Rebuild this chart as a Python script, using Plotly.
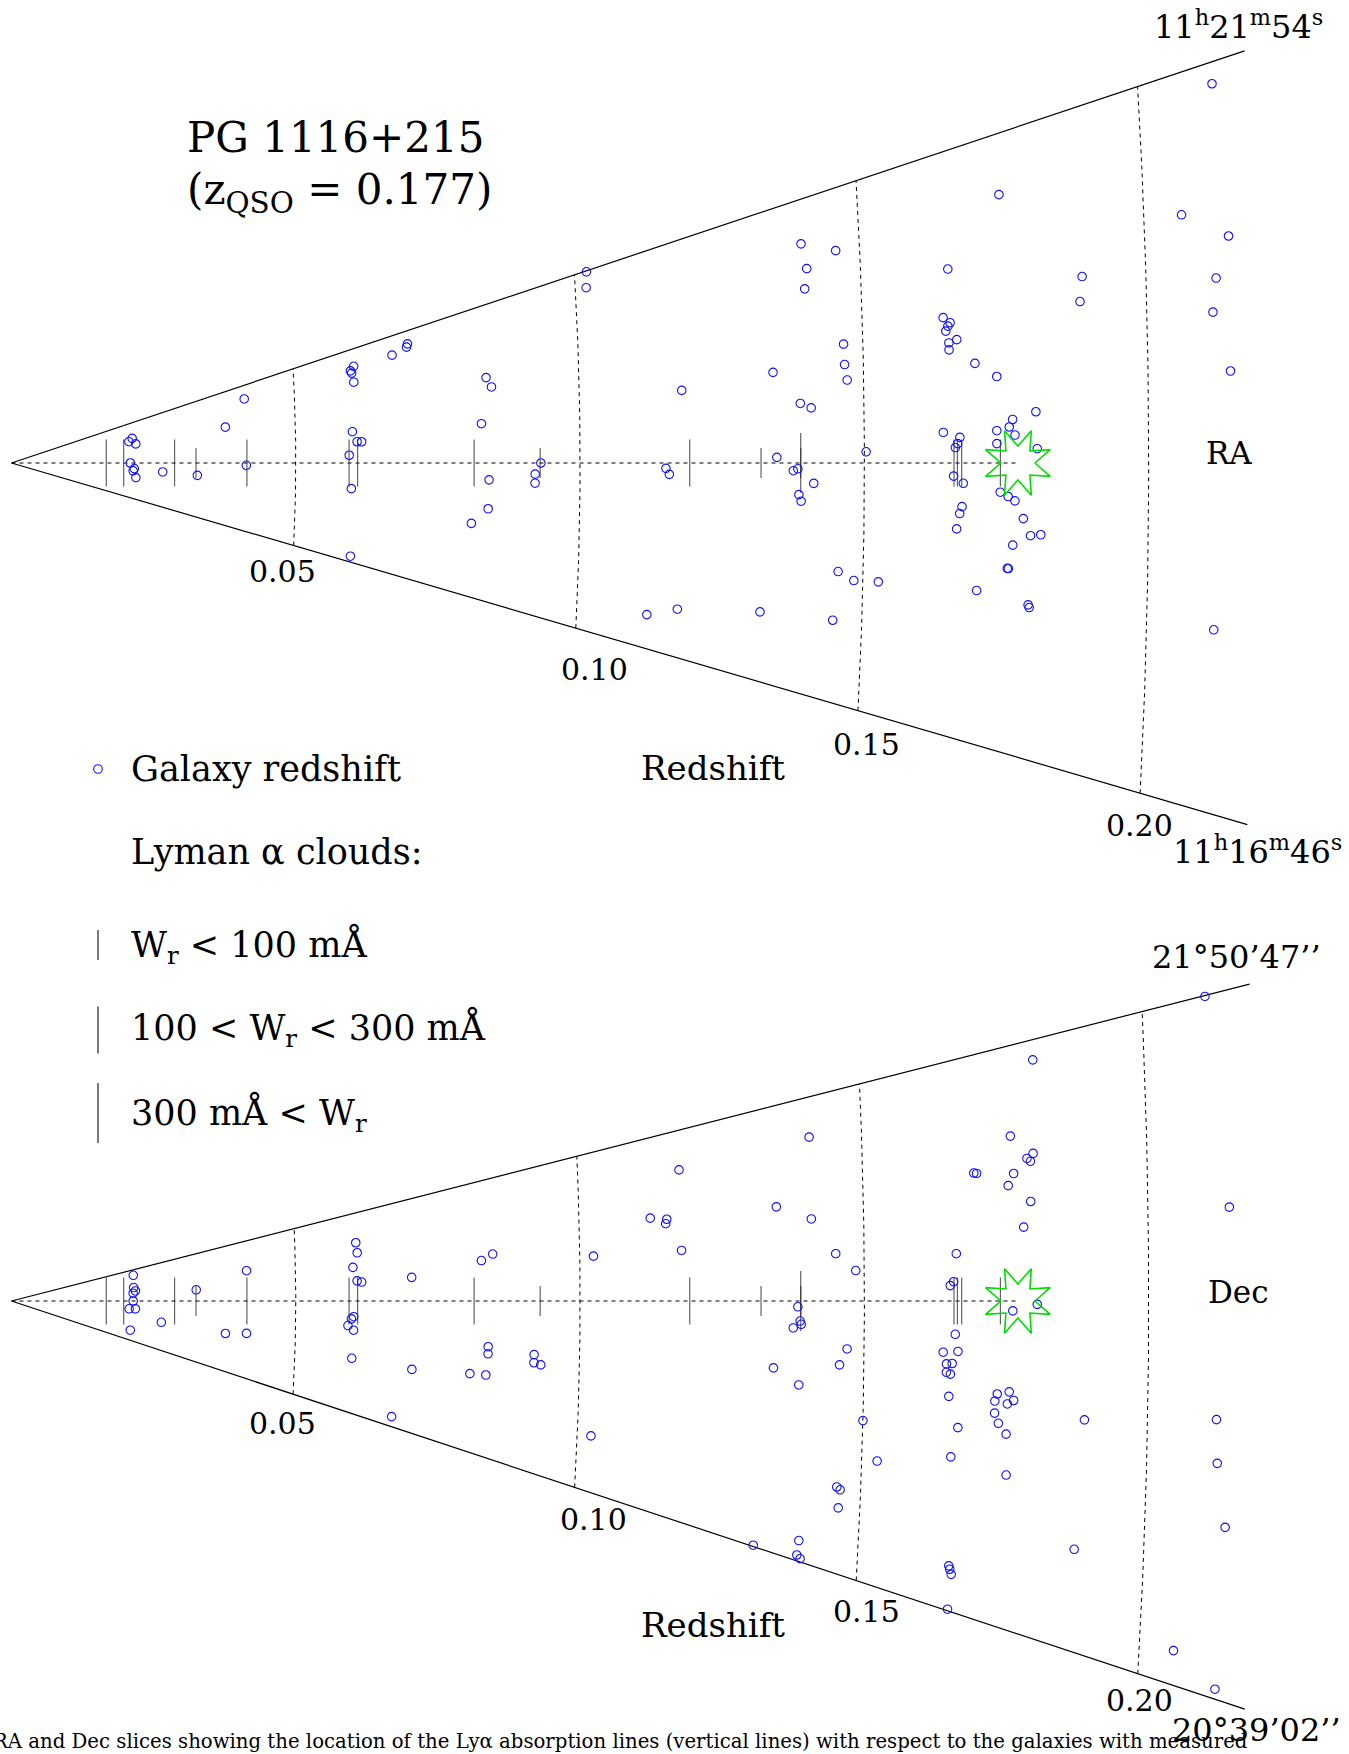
import numpy as np
import plotly.graph_objects as go

# ------------------------------------------------------------------ data
Z_QSO = 0.177
Z_EDGE = 0.219
Z_TICKS = [0.05, 0.10, 0.15, 0.20]
Z_TICK_TEXT = ["0.05", "0.10", "0.15", "0.20"]
RA_LIMITS = [-35.5, 40.5]     # arcmin offset from QSO (lower edge, upper edge)
DEC_LIMITS = [-40.1, 31.1]

# galaxies in the RA slice: redshift and RA offset (arcmin)
ra_gal_z = [0.2130, 0.1748, 0.2066, 0.2147, 0.1398, 0.1458, 0.1406, 0.1021, 0.1653, 0.1888,
            0.2123, 0.1019, 0.1401, 0.1883, 0.2116, 0.1642, 0.1654, 0.1650, 0.1646, 0.1665,
            0.1651, 0.1651, 0.1466, 0.0702, 0.0700, 0.0674, 0.1696, 0.0606, 0.0600, 0.0602,
            0.1467, 0.1341, 0.1734, 0.2145, 0.0837, 0.1471, 0.0605, 0.0846, 0.1180, 0.0412,
            0.1388, 0.1407, 0.1802, 0.1761, 0.0827, 0.0377, 0.1755, 0.1639, 0.1733, 0.0600,
            0.1765, 0.1668, 0.0213, 0.0207, 0.0219, 0.0608, 0.0616, 0.1664, 0.1660, 0.1733,
            0.1804, 0.1503, 0.0594, 0.1346, 0.0209, 0.0413, 0.0931, 0.0216, 0.0214, 0.1151,
            0.1157, 0.1383, 0.1375, 0.0266, 0.0921, 0.0327, 0.1657, 0.0219, 0.0840, 0.1411,
            0.0921, 0.1674, 0.0598, 0.1739, 0.1385, 0.1753, 0.1389, 0.1765, 0.1672, 0.0839,
            0.1668, 0.1780, 0.0810, 0.1663, 0.1811, 0.1793, 0.1762, 0.0600, 0.1753, 0.1755,
            0.1456, 0.1484, 0.1527, 0.1700, 0.1791, 0.1793, 0.1176, 0.1321, 0.1123, 0.1449,
            0.2118]
ra_gal_off = [38.3, 33.0, 25.8, 22.7, 33.7, 31.3, 29.7, 40.3, 25.2, 21.2,
              18.7, 37.0, 26.7, 18.4, 15.3, 19.0, 18.2, 17.8, 17.2, 15.9,
              15.6, 14.7, 17.4, 36.5, 35.6, 34.4, 12.6, 34.3, 33.0, 32.1,
              14.4, 14.5, 10.7, 9.2, 21.9, 12.1, 28.7, 19.3, 13.2, 33.4,
              9.2, 8.4, 6.1, 5.3, 10.2, 20.4, 4.4, 4.0, 4.0, 11.2,
              3.4, 3.3, 24.8, 22.1, 18.7, 7.5, 7.4, 2.5, 2.0, 2.4,
              1.7, 1.6, 2.8, 0.9, 0.0, -1.2, 0.0, -5.5, -7.8, -1.0,
              -2.1, -0.9, -1.2, -7.2, -2.6, -8.1, -1.7, -14.3, -4.3, -3.1,
              -4.7, -2.6, -9.2, -3.6, -4.9, -4.1, -5.9, -4.6, -5.6, -11.7,
              -6.5, -6.7, -16.0, -8.5, -8.5, -8.7, -10.0, -33.4, -12.9, -12.9,
              -16.0, -17.0, -16.7, -16.1, -17.0, -17.3, -26.7, -24.2, -29.0, -23.3,
              -16.9]

# galaxies in the Dec slice: redshift and Dec offset (arcmin)
dec_gal_z = [0.2111, 0.1805, 0.1408, 0.1761, 0.1800, 0.1789, 0.1795, 0.1178, 0.1695, 0.1700,
             0.1765, 0.1755, 0.1794, 0.2143, 0.1347, 0.1125, 0.1154, 0.1152, 0.1408, 0.1781,
             0.0607, 0.0609, 0.1450, 0.1662, 0.1179, 0.1024, 0.0827, 0.0847, 0.0601, 0.0414,
             0.1485, 0.0215, 0.0704, 0.0608, 0.0616, 0.1657, 0.1651, 0.0215, 0.0218, 0.0214,
             0.0325, 0.0214, 0.1804, 0.1383, 0.0207, 0.0218, 0.1761, 0.0602, 0.0598, 0.0592,
             0.0602, 0.1387, 0.1389, 0.1375, 0.0264, 0.0210, 0.0377, 0.0414, 0.1660, 0.0839,
             0.0839, 0.1470, 0.1639, 0.1665, 0.0920, 0.0920, 0.0932, 0.0600, 0.1645, 0.1655,
             0.1457, 0.1341, 0.0706, 0.1645, 0.1652, 0.0808, 0.0836, 0.1386, 0.1735, 0.1756,
             0.1731, 0.1764, 0.1753, 0.1650, 0.1731, 0.0674, 0.1889, 0.2121, 0.1500, 0.1738,
             0.1667, 0.1752, 0.1024, 0.1656, 0.1527, 0.2124, 0.1754, 0.1458, 0.1464, 0.1462,
             0.2141, 0.1396, 0.1317, 0.1878, 0.1394, 0.1400, 0.1660, 0.1662, 0.1665, 0.1662,
             0.2060, 0.2136]
dec_gal_off = [31.0, 28.7, 25.0, 20.1, 17.6, 17.1, 16.7, 23.9, 16.2, 16.1,
               15.5, 14.1, 11.9, 9.4, 15.0, 15.8, 15.2, 14.4, 12.5, 8.9,
               20.6, 17.0, 7.0, 6.1, 9.2, 9.4, 10.5, 11.9, 12.0, 15.7,
               4.4, 25.7, 7.2, 7.1, 6.6, 2.5, 2.0, 13.4, 9.9, 7.8,
               7.4, 0.0, -0.4, -0.9, -8.1, -7.7, -1.2, -5.6, -6.4, -8.9,
               -10.4, -3.1, -3.6, -4.2, -17.3, -29.9, -18.5, -16.8, -4.3, -11.7,
               -13.5, -7.0, -6.7, -6.5, -12.5, -14.4, -14.7, -20.5, -8.2, -8.1,
               -9.4, -10.7, -20.8, -9.3, -9.5, -19.3, -19.0, -13.0, -11.5, -11.1,
               -12.4, -12.1, -12.6, -12.4, -13.9, -36.9, -13.5, -12.0, -17.1, -15.1,
               -16.3, -16.3, -28.3, -20.2, -22.5, -16.4, -21.3, -27.4, -27.7, -30.4,
               -22.7, -36.9, -39.9, -28.4, -39.2, -39.6, -34.3, -34.7, -35.3, -39.9,
               -36.5, -39.1]

# Ly-alpha absorbers: redshift and W_r class (0: <100, 1: 100-300, 2: >300 mA)
lya_z = [0.01667, 0.01973, 0.02868, 0.03245, 0.04140, 0.05937, 0.06087, 0.08136,
         0.09298, 0.11928, 0.13182, 0.13880, 0.13880, 0.16576, 0.16636, 0.16711, 0.17392]
lya_class = [1, 1, 1, 0, 1, 1, 1, 1, 0, 1, 0, 2, 0, 1, 1, 1, 1]

# ------------------------------------------------------------------ geometry / style
W, H = 1349, 1754
PX_PER_Z = 5686.0           # horizontal pixels per unit redshift
VEXAG = 2.37                # vertical exaggeration of the slices
ANG_PER_ARCMIN = 0.0082 / VEXAG
APEX_PX_X = 11.5
TOP_CENTER_PX = 463.0
BOT_CENTER_PX = 1301.0
PY_PER_Y = PX_PER_Z * VEXAG
FONT = "DejaVu Serif"
BAR_PX = [30, 47, 60]       # tick length for each W_r class
GAL_COLOR = "#1010ff"
STAR_COLOR = "#00dd00"


def polar(z, off):
    z = np.asarray(z, float)
    phi = ANG_PER_ARCMIN * np.asarray(off, float)
    return z * np.cos(phi), z * np.sin(phi)


def px2paper(x, y):
    return x / W, 1 - y / H


fig = go.Figure()


def add_wedge(gz, goff, lims, xa, ya):
    # edges
    xe, ye = polar([Z_EDGE, 0, Z_EDGE], [lims[0], 0, lims[1]])
    fig.add_trace(go.Scatter(x=xe, y=ye, mode="lines", xaxis=xa, yaxis=ya,
                             line=dict(color="black", width=1.2), hoverinfo="skip"))
    # redshift arcs
    for tz in Z_TICKS:
        offs = np.linspace(lims[0], lims[1], 80)
        xa_, ya_ = polar(np.full_like(offs, tz), offs)
        fig.add_trace(go.Scatter(x=xa_, y=ya_, mode="lines", xaxis=xa, yaxis=ya,
                                 line=dict(color="black", width=1, dash="4px,4px"),
                                 hoverinfo="skip"))
    # line of sight
    fig.add_trace(go.Scatter(x=[0, Z_QSO], y=[0, 0], mode="lines", xaxis=xa, yaxis=ya,
                             line=dict(color="black", width=1, dash="4px,4px"),
                             hoverinfo="skip"))
    # Ly-alpha absorbers
    sizes = [BAR_PX[c] / 1.4 for c in lya_class]
    fig.add_trace(go.Scatter(x=lya_z, y=[0] * len(lya_z), mode="markers",
                             xaxis=xa, yaxis=ya,
                             marker=dict(symbol="line-ns", size=sizes,
                                         line=dict(color="#222222", width=1.2)),
                             hoverinfo="skip"))
    # galaxies
    gx, gy = polar(gz, goff)
    fig.add_trace(go.Scatter(x=gx, y=gy, mode="markers", xaxis=xa, yaxis=ya,
                             marker=dict(symbol="circle-open", size=8.5, color=GAL_COLOR,
                                         line=dict(width=1.1, color=GAL_COLOR)),
                             hoverinfo="skip"))
    # QSO star (8 points)
    ang = np.deg2rad(np.arange(0, 360.1, 22.5))
    rad = np.where(np.arange(len(ang)) % 2 == 0, 17.0, 35.0)
    sx = Z_QSO + rad * np.cos(ang) / PX_PER_Z
    sy = rad * np.sin(ang) / PY_PER_Y
    fig.add_trace(go.Scatter(x=sx, y=sy, mode="lines", xaxis=xa, yaxis=ya,
                             line=dict(color=STAR_COLOR, width=1.6), hoverinfo="skip"))


add_wedge(ra_gal_z, ra_gal_off, RA_LIMITS, "x", "y")
add_wedge(dec_gal_z, dec_gal_off, DEC_LIMITS, "x2", "y2")

xr = [-APEX_PX_X / PX_PER_Z, (W - APEX_PX_X) / PX_PER_Z]
half = H / 2
yr_top = [-(half - TOP_CENTER_PX) / PY_PER_Y, TOP_CENTER_PX / PY_PER_Y]
yr_bot = [-(H - BOT_CENTER_PX) / PY_PER_Y, (BOT_CENTER_PX - half) / PY_PER_Y]

ax_common = dict(visible=False, showgrid=False, zeroline=False, fixedrange=True)
fig.update_layout(
    width=W, height=H, margin=dict(l=0, r=0, t=0, b=0),
    paper_bgcolor="white", plot_bgcolor="rgba(0,0,0,0)", showlegend=False,
    xaxis=dict(domain=[0, 1], range=xr, anchor="y", **ax_common),
    yaxis=dict(domain=[0.5, 1], range=yr_top, anchor="x", **ax_common),
    xaxis2=dict(domain=[0, 1], range=xr, anchor="y2", **ax_common),
    yaxis2=dict(domain=[0, 0.5], range=yr_bot, anchor="x2", **ax_common),
    font=dict(family=FONT, color="black", size=20),
)

ann = []


def text_px(x, y, s, size, xanchor="left"):
    xp, yp = px2paper(x, y)
    ann.append(dict(x=xp, y=yp, xref="paper", yref="paper", text=s, showarrow=False,
                    xanchor=xanchor, yanchor="middle",
                    font=dict(family=FONT, size=size, color="black")))


# redshift tick labels below the lower edge of each slice
shift_top = [(-11, -26), (19, -41), (9, -34), (-1, -32)]
shift_bot = [(-11, -29), (19, -32), (10, -31), (2, -27)]
for (lims, xa, ya, shifts) in [(RA_LIMITS, "x", "y", shift_top),
                                (DEC_LIMITS, "x2", "y2", shift_bot)]:
    for tz, tt, (dx, dy) in zip(Z_TICKS, Z_TICK_TEXT, shifts):
        cx, cy = polar(tz, lims[0])
        ann.append(dict(x=float(cx), y=float(cy), xref=xa, yref=ya, text=tt,
                        showarrow=False, xshift=dx, yshift=dy,
                        xanchor="center", yanchor="middle",
                        font=dict(family=FONT, size=30, color="black")))

text_px(185, 137, "PG 1116+215", 42)
text_px(185, 192, "(z<sub>QSO</sub> = 0.177)", 42)

text_px(713, 768, "Redshift", 34, "center")
text_px(713, 1625, "Redshift", 34, "center")
text_px(1229, 453, "RA", 31, "center")
text_px(1238, 1292, "Dec", 31, "center")

text_px(1152, 25, "11<sup>h</sup>21<sup>m</sup>54<sup>s</sup>", 32)
text_px(1171, 850, "11<sup>h</sup>16<sup>m</sup>46<sup>s</sup>", 32)
text_px(1150, 957, "21°50’47’’", 32)
text_px(1170, 1730, "20°39’02’’", 32)

# legend
text_px(129, 769, "Galaxy redshift", 35)
text_px(129, 852, "Lyman α clouds:", 35)
text_px(129, 946, "W<sub>r</sub> &lt; 100 mÅ", 35)
text_px(129, 1029, "100 &lt; W<sub>r</sub> &lt; 300 mÅ", 35)
text_px(129, 1114, "300 mÅ &lt; W<sub>r</sub>", 35)

text_px(-9, 1741, "RA and Dec slices showing the location of the Lyα absorption lines "
        "(vertical lines) with respect to the galaxies with measured", 19.7)

shapes = []
cx, cy = px2paper(98, 769)
rx, ry = 4.3 / W, 4.3 / H
shapes.append(dict(type="circle", xref="paper", yref="paper",
                   x0=cx - rx, x1=cx + rx, y0=cy - ry, y1=cy + ry,
                   line=dict(color=GAL_COLOR, width=1.1)))
for yc, L in zip([945, 1030, 1113], BAR_PX):
    x0, y0 = px2paper(98, yc - L / 2)
    x1, y1 = px2paper(98, yc + L / 2)
    shapes.append(dict(type="line", xref="paper", yref="paper", x0=x0, x1=x1, y0=y0, y1=y1,
                       line=dict(color="#222222", width=1.2)))

fig.update_layout(annotations=ann, shapes=shapes)
fig.write_html("out.html")
